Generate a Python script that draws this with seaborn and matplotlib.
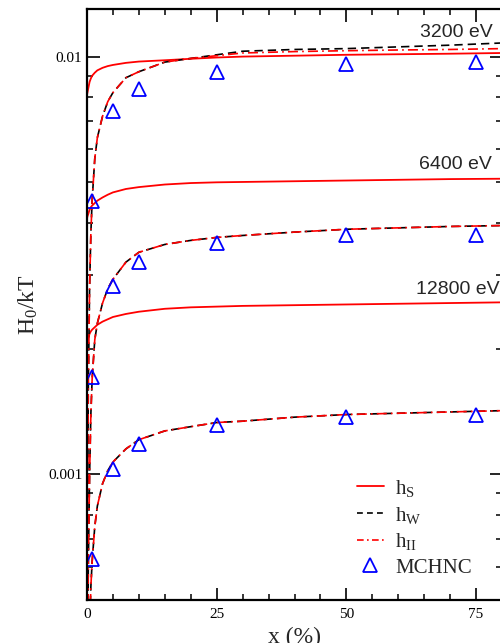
import numpy as np
import pandas as pd
import matplotlib
matplotlib.use("Agg")
import matplotlib.pyplot as plt
from matplotlib.lines import Line2D
from matplotlib.ticker import FixedLocator, FuncFormatter, NullFormatter, MultipleLocator
import seaborn as sns

sns.set_theme(style="white")
plt.rcParams['font.family'] = ['Liberation Serif', 'DejaVu Serif']
plt.rcParams['mathtext.fontset'] = 'custom'
plt.rcParams['mathtext.rm'] = 'Liberation Serif'
plt.rcParams['mathtext.it'] = 'Liberation Serif:italic'

# ---- data ----
energies = ["3200 eV", "6400 eV", "12800 eV"]

x_S = [0, 0.1, 0.25, 0.5, 0.75, 1, 1.5, 2, 3, 4, 5, 7.5, 10, 15, 20, 25, 30, 40, 50, 60, 70, 80]
hS_3200 = [0.0081, 0.00822, 0.0084, 0.0087, 0.00887, 0.0090, 0.00915, 0.00927, 0.0094, 0.00949, 0.00955,
           0.00966, 0.00973, 0.0098, 0.00988, 0.00995, 0.01, 0.01005, 0.0101, 0.01013, 0.01016, 0.0102]
hS_6400 = [0.0041, 0.00415, 0.0042, 0.0043, 0.00436, 0.0044, 0.00446, 0.00452, 0.0046, 0.00467, 0.00473,
           0.00482, 0.00487, 0.00494, 0.00498, 0.005, 0.00501, 0.00503, 0.00505, 0.00507, 0.00509, 0.0051]
hS_12800 = [0.00203, 0.00207, 0.00212, 0.00217, 0.0022, 0.00222, 0.00225, 0.00228, 0.00232, 0.00235, 0.00238,
            0.00242, 0.00245, 0.00249, 0.00251, 0.00252, 0.00253, 0.00254, 0.00255, 0.00256, 0.00257, 0.00258]

x_W = [0.05, 0.1, 0.25, 0.5, 0.75, 1, 1.5, 2, 3, 4, 5, 7.5, 10, 15, 20, 25, 30, 40, 50, 60, 70, 80]
hW_3200 = [0.00036, 0.0007, 0.0016, 0.0028, 0.0038, 0.00455, 0.0057, 0.0064, 0.0072, 0.0078, 0.0082, 0.0089,
           0.0092, 0.0097, 0.0099, 0.0101, 0.0103, 0.0104, 0.01045, 0.01055, 0.01065, 0.01078]
hW_6400 = [0.00013, 0.00027, 0.0006, 0.001, 0.0014, 0.0017, 0.0021, 0.0023, 0.00257, 0.00278, 0.00293, 0.00322,
           0.0034, 0.00355, 0.00363, 0.00369, 0.00373, 0.0038, 0.00386, 0.00389, 0.00392, 0.00394]
hW_12800 = [0.00005, 0.0001, 0.00022, 0.00043, 0.00054, 0.00062, 0.00075, 0.00084, 0.00095, 0.00102, 0.00107,
            0.00115, 0.00121, 0.00127, 0.0013, 0.00133, 0.00134, 0.00137, 0.00139, 0.0014, 0.00141, 0.00142]

hII_3200 = [0.00036, 0.0007, 0.0016, 0.0028, 0.0038, 0.00455, 0.0057, 0.0064, 0.0072, 0.0078, 0.0082, 0.0089,
            0.0092, 0.0097, 0.0099, 0.01005, 0.0102, 0.01028, 0.01033, 0.01037, 0.0104, 0.01045]
hII_6400 = hW_6400
hII_12800 = hW_12800

x_mc = [1, 5, 10, 25, 50, 75]
mc_3200 = [0.0045, 0.00739, 0.00838, 0.0092, 0.00962, 0.00973]
mc_6400 = [0.00171, 0.00283, 0.00323, 0.00357, 0.00373, 0.00375]
mc_12800 = [0.000626, 0.00103, 0.00118, 0.00131, 0.00137, 0.00139]

label_x = [64.2, 64.0, 63.5]
label_y = [0.01116, 0.00537, 0.0027]

# ---- figure ----
fig = plt.figure(figsize=(5.0, 6.43), dpi=100)
ax = fig.add_axes([87/500, 1 - 600/643, (502 - 87)/500, (600 - 9)/643])

red = '#ff0000'
blue = '#0000ff'

for hs in [hS_3200, hS_6400, hS_12800]:
    sns.lineplot(x=x_S, y=hs, ax=ax, color=red, lw=1.3, sort=False, estimator=None)
for hw in [hW_3200, hW_6400, hW_12800]:
    sns.lineplot(x=x_W, y=hw, ax=ax, color='black', lw=1.2, sort=False, estimator=None,
                 dashes=False, linestyle=(0, (5, 3)))
for hi in [hII_3200, hII_6400, hII_12800]:
    sns.lineplot(x=x_W, y=hi, ax=ax, color=red, lw=1.2, sort=False, estimator=None,
                 linestyle=(0, (6, 2.5, 1, 2.5)))
for mc in [mc_3200, mc_6400, mc_12800]:
    sns.lineplot(x=x_mc, y=mc, ax=ax, linestyle='', marker='^', markersize=10,
                 markerfacecolor='none', markeredgecolor=blue, markeredgewidth=1.3,
                 sort=False, estimator=None)

ax.set_yscale('log')
ax.set_xlim(0, 80)
ax.set_ylim(0.0005, 0.013)

ax.xaxis.set_major_locator(FixedLocator([0, 25, 50, 75]))
ax.xaxis.set_minor_locator(MultipleLocator(5))
ax.yaxis.set_major_locator(FixedLocator([0.001, 0.01]))
ax.yaxis.set_major_formatter(FuncFormatter(lambda v, p: {0.001: '0.001', 0.01: '0.01'}.get(round(v, 6), '')))
ax.yaxis.set_minor_locator(FixedLocator([k * 1e-4 for k in range(5, 10)] + [k * 1e-3 for k in range(2, 10)]))
ax.yaxis.set_minor_formatter(NullFormatter())

ax.tick_params(which='both', direction='in', top=True, right=True, bottom=True, left=True,
               colors='black', labelsize=11)
ax.tick_params(which='major', length=9, width=1.2)
ax.tick_params(which='minor', length=4.5, width=1.1)
ax.tick_params(axis='x', pad=6)

for sp in ax.spines.values():
    sp.set_color('black')
    sp.set_linewidth(1.6)

ax.set_xlabel(r'x (%)', fontsize=17, labelpad=4)
ax.set_ylabel(r'$\mathregular{H_0/kT}$', fontsize=17, labelpad=6)

for t, lx, ly in zip(energies, label_x, label_y):
    ax.text(lx, ly, t, fontsize=14, family=['Liberation Sans', 'DejaVu Sans'],
            ha='left', va='baseline', clip_on=False)

handles = [
    Line2D([], [], color=red, lw=1.3),
    Line2D([], [], color='black', lw=1.2, linestyle=(0, (3.5, 2.5))),
    Line2D([], [], color=red, lw=1.2, linestyle=(0, (4, 2, 1, 2))),
    Line2D([], [], linestyle='', marker='^', markersize=10, markerfacecolor='none',
           markeredgecolor=blue, markeredgewidth=1.3),
]
labels = [r'$\mathregular{h_S}$', r'$\mathregular{h_W}$', r'$\mathregular{h_{II}}$', 'MCHNC']
ax.legend(handles, labels, loc='lower left', bbox_to_anchor=(0.625, 0.02), frameon=False,
          fontsize=15, handlelength=1.3, handletextpad=0.55, labelspacing=0.28, borderpad=0)

fig.savefig('out.png', dpi=100)
